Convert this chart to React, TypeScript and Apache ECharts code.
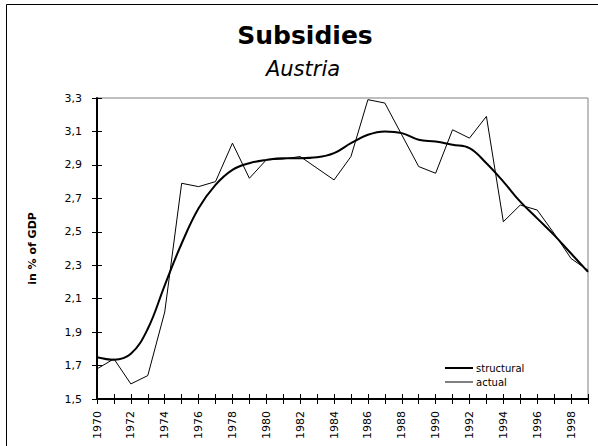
import React, { useEffect, useRef } from "react";
import * as echarts from "echarts";

const years = [
  "1970", "1971", "1972", "1973", "1974", "1975", "1976", "1977", "1978", "1979",
  "1980", "1981", "1982", "1983", "1984", "1985", "1986", "1987", "1988", "1989",
  "1990", "1991", "1992", "1993", "1994", "1995", "1996", "1997", "1998", "1999",
];

const structural = [
  1.75, 1.735, 1.77, 1.92, 2.18, 2.43, 2.64, 2.78, 2.87, 2.91,
  2.93, 2.94, 2.94, 2.945, 2.97, 3.03, 3.08, 3.1, 3.09, 3.05,
  3.04, 3.02, 3.0, 2.91, 2.8, 2.68, 2.58, 2.48, 2.37, 2.26,
];

const actual = [
  1.68, 1.74, 1.59, 1.64, 2.02, 2.79, 2.77, 2.8, 3.03, 2.82,
  2.93, 2.935, 2.95, 2.88, 2.81, 2.95, 3.29, 3.27, 3.08, 2.89,
  2.85, 3.11, 3.06, 3.19, 2.56, 2.66, 2.63, 2.49, 2.34, 2.27,
];

const yTicks = [1.5, 1.7, 1.9, 2.1, 2.3, 2.5, 2.7, 2.9, 3.1, 3.3];

const titleText = "Subsidies";
const subtitleText = "Austria";
const yAxisName = "in % of GDP";

const FONT = "DejaVu Sans";

export default function App() {
  const ref = useRef<HTMLDivElement>(null);

  useEffect(() => {
    document.body.style.margin = "0";
    if (!ref.current) return;
    const chart = echarts.init(ref.current, null, { renderer: "svg" });
    const fmt = (v: number) => v.toFixed(1).replace(".", ",");
    chart.setOption({
      animation: false,
      backgroundColor: "#fff",
      title: [
        {
          text: titleText,
          left: 305,
          top: 23,
          textAlign: "center",
          padding: 0,
          textStyle: { fontFamily: FONT, fontWeight: "bold", fontSize: 25, color: "#000" },
        },
        {
          text: subtitleText,
          left: 303,
          top: 58,
          textAlign: "center",
          padding: 0,
          textStyle: { fontFamily: FONT, fontStyle: "italic", fontWeight: "normal", fontSize: 21, color: "#000" },
        },
      ],
      graphic: [
        {
          type: "rect",
          shape: { x: 6.5, y: 4.5, width: 620, height: 460 },
          style: { fill: "none", stroke: "#000", lineWidth: 1 },
          silent: true,
        },
      ],
      legend: {
        orient: "vertical",
        left: 444,
        top: 363,
        padding: 0,
        itemWidth: 28,
        itemHeight: 10,
        itemGap: 4,
        data: [
          { name: "structural", lineStyle: { width: 2, color: "#000" } },
          { name: "actual", lineStyle: { width: 1, color: "#000" } },
        ],
        itemStyle: { opacity: 0 },
        textStyle: { fontFamily: FONT, fontSize: 10, color: "#000", padding: [0, 0, 0, -2] },
      },
      grid: {
        show: true,
        left: 97,
        top: 98,
        right: 10,
        bottom: 47,
        borderColor: "#808080",
        borderWidth: 1,
        containLabel: false,
        outerBoundsMode: "none",
      },
      xAxis: [
        {
          type: "category",
          data: years,
          boundaryGap: false,
          position: "bottom",
          axisLine: { show: true, lineStyle: { color: "#000", width: 2 } },
          axisTick: { show: true, interval: 0, length: 5, lineStyle: { color: "#000", width: 1 } },
          axisLabel: {
            interval: 1,
            rotate: 90,
            margin: 12,
            fontFamily: FONT,
            fontSize: 11,
            color: "#000",
          },
          splitLine: { show: false },
        },
        {
          type: "category",
          data: years,
          boundaryGap: false,
          position: "bottom",
          offset: 0,
          axisLine: { show: false },
          axisTick: { show: true, inside: true, interval: 0, length: 5, lineStyle: { color: "#000", width: 1 } },
          axisLabel: { show: false },
          splitLine: { show: false },
        },
      ],
      yAxis: [
        {
          type: "value",
          min: 1.5,
          max: 3.3,
          position: "left",
          name: yAxisName,
          nameLocation: "middle",
          nameGap: 59,
          nameTextStyle: { fontFamily: FONT, fontWeight: "bold", fontSize: 11, color: "#000" },
          axisLine: { show: true, lineStyle: { color: "#000", width: 2 } },
          axisTick: { show: true, length: 5, customValues: yTicks, lineStyle: { color: "#000", width: 1 } },
          axisLabel: {
            customValues: yTicks,
            margin: 15,
            fontFamily: FONT,
            fontSize: 11,
            color: "#000",
            formatter: fmt,
          },
          splitLine: { show: false },
        },
        {
          type: "value",
          min: 1.5,
          max: 3.3,
          position: "left",
          offset: 0,
          axisLine: { show: false },
          axisTick: { show: true, inside: true, length: 5, customValues: yTicks, lineStyle: { color: "#000", width: 1 } },
          axisLabel: { show: false },
          splitLine: { show: false },
        },
      ],
      series: [
        {
          name: "structural",
          type: "line",
          data: structural,
          smooth: 0.4,
          symbol: "none",
          lineStyle: { color: "#000", width: 2 },
          itemStyle: { color: "#000" },
          z: 3,
        },
        {
          name: "actual",
          type: "line",
          data: actual,
          smooth: false,
          symbol: "none",
          lineStyle: { color: "#000", width: 1 },
          itemStyle: { color: "#000" },
          z: 2,
        },
      ],
    });
    return () => chart.dispose();
  }, []);

  return <div ref={ref} style={{ width: 598, height: 446 }} />;
}
